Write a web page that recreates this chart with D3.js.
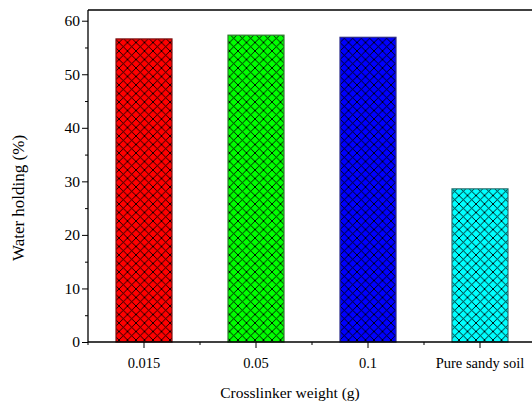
<!DOCTYPE html>
<html lang="en">
<head>
<meta charset="utf-8">
<title>Water holding</title>
<style>
  body { margin: 0; background: #fff; }
  .axis text { font-family: "Liberation Serif", "Times New Roman", serif; fill: #000; }
</style>
</head>
<body>
<svg width="532" height="406"></svg>
<script src="https://d3js.org/d3.v7.min.js"></script>
<script>
// data
var categories = ["0.015", "0.05", "0.1", "Pure sandy soil"];
var values = [56.6, 57.3, 56.9, 28.6];
var colors = ["#ff0000", "#00ff00", "#0000ff", "#00ffff"];
var strokes = ["#7a1010", "#2f7a2f", "#2a2a8a", "#2a7070"];
var yTicks = [0, 10, 20, 30, 40, 50, 60];

var svg = d3.select("svg");
var plotLeft = 88, plotRight = 536, plotTop = 10, plotBottom = 342;

var x = d3.scaleBand()
    .domain(categories)
    .range([plotLeft, plotRight])
    .paddingInner(0.5)
    .paddingOuter(0.25);

var y = d3.scaleLinear()
    .domain([0, 62])
    .range([plotBottom, plotTop]);

// crosshatch patterns, one per colour
var defs = svg.append("defs");
colors.forEach(function(c, i) {
  var p = defs.append("pattern")
      .attr("id", "hatch" + i)
      .attr("patternUnits", "userSpaceOnUse")
      .attr("width", 8.5)
      .attr("height", 8.5);
  p.append("rect").attr("width", 8.5).attr("height", 8.5).attr("fill", c);
  p.append("path")
      .attr("d", "M0,0L8.5,8.5M8.5,0L0,8.5")
      .attr("stroke", "#000")
      .attr("stroke-width", 0.9);
});

// bars
svg.append("g").selectAll("rect")
    .data(values)
  .enter().append("rect")
    .attr("x", function(d, i) { return x(categories[i]); })
    .attr("y", function(d) { return y(d); })
    .attr("width", x.bandwidth())
    .attr("height", function(d) { return y(0) - y(d); })
    .attr("fill", function(d, i) { return "url(#hatch" + i + ")"; })
    .attr("stroke", function(d, i) { return strokes[i]; })
    .attr("stroke-width", 1.2);

// y axis major + minor
var yAxis = svg.append("g")
    .attr("class", "axis")
    .attr("transform", "translate(" + plotLeft + ",0)")
    .call(d3.axisLeft(y).tickValues(yTicks).tickSize(6).tickPadding(2).tickSizeOuter(0));
yAxis.selectAll("text").style("font-size", "15.5px");
yAxis.select(".domain").remove();

svg.append("g")
    .attr("transform", "translate(" + plotLeft + ",0)")
    .call(d3.axisLeft(y).tickValues([5, 15, 25, 35, 45, 55]).tickSize(3).tickFormat(""))
    .call(function(g) { g.select(".domain").remove(); });

// x axis
var xAxis = svg.append("g")
    .attr("class", "axis")
    .attr("transform", "translate(0," + plotBottom + ")")
    .call(d3.axisBottom(x).tickSize(6).tickPadding(10).tickSizeOuter(0));
xAxis.selectAll("text").style("font-size", "14.5px");
xAxis.select(".domain").remove();

var step = x.step();
svg.append("g").selectAll("line")
    .data(categories)
  .enter().append("line")
    .attr("x1", function(d) { return x(d) + x.bandwidth() / 2 - step / 2; })
    .attr("x2", function(d) { return x(d) + x.bandwidth() / 2 - step / 2; })
    .attr("y1", plotBottom)
    .attr("y2", plotBottom + 3)
    .attr("stroke", "#000");

// frame lines
svg.append("line").attr("x1", plotLeft).attr("x2", 532).attr("y1", plotBottom).attr("y2", plotBottom)
    .attr("stroke", "#000").attr("stroke-width", 1.3);
svg.append("line").attr("x1", plotLeft).attr("x2", plotLeft).attr("y1", plotTop).attr("y2", plotBottom)
    .attr("stroke", "#000").attr("stroke-width", 1.3);
svg.append("line").attr("x1", plotLeft).attr("x2", 532).attr("y1", plotTop).attr("y2", plotTop)
    .attr("stroke", "#000").attr("stroke-width", 1.3);

// titles
svg.append("text")
    .attr("transform", "translate(24,198) rotate(-90)")
    .attr("text-anchor", "middle")
    .style("font-family", "Liberation Serif, serif")
    .style("font-size", "17px")
    .text("Water holding (%)");

svg.append("text")
    .attr("x", 290)
    .attr("y", 398)
    .attr("text-anchor", "middle")
    .style("font-family", "Liberation Serif, serif")
    .style("font-size", "15.5px")
    .text("Crosslinker weight (g)");
</script>
</body>
</html>
